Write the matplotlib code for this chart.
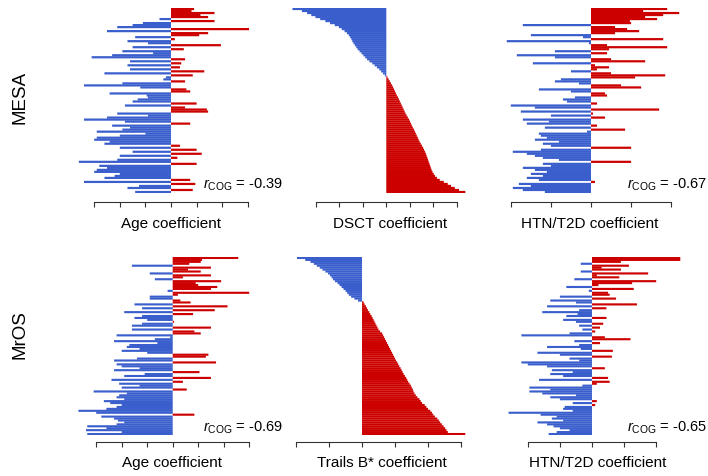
import numpy as np
import matplotlib.pyplot as plt

# coefficient per region, top to bottom (ordered by the middle panel)
age_mesa = [0.9, 0.8, 1.7, 1.15, 1.45,
            -0.45, 1.7, -1.1, -1.5, -2.1,
            3.05, -2.5, 1.45, 1.1, -1.4,
            0.15, -1.7, -0.9, 1.95, -1.5,
            0.5, -1.9, -0.7, -2.3, -3.1,
            0.55, -1.6, 0.4, -1.7, 0.35,
            -1.6, 1.3, -2.6, 0.85, -0.2,
            -0.3, 0.55, -1.9, -3.4, -1.2,
            0.6, 0.75, -2.4, -0.95, -0.9,
            -1.3, -1.5, 1.0, -1.8, 0.55,
            1.4, 1.45, -2.1, -0.9, -2.5,
            -3.4, -1.8, 0.75, -2.3, -1.6,
            -1.9, -2.9, -1.0, -2.0, -2.9,
            -3.0, -2.4, -2.6, 0.35, -2.0,
            1.0, -1.5, 1.2, -2.0, 0.25,
            -2.1, -3.6, 1.0, -2.8, -2.5,
            -2.9, -3.0, -2.0, -2.2, -2.6,
            0.75, -3.4, 0.95, -1.25,
            -1.7, 0.85, -1.4]

dsct_mesa = [-4.0, -3.6, -3.38, -3.2, -3.02, -2.82, -2.6, -2.4, -2.2, -2.02,
             -1.9, -1.78, -1.68, -1.6, -1.54, -1.49, -1.45, -1.4, -1.34, -1.28,
             -1.22, -1.14, -1.06, -0.98, -0.9, -0.82, -0.72, -0.6, -0.5, -0.4,
             -0.3, -0.22, -0.14, -0.06,
             0.05, 0.1, 0.15, 0.2, 0.25, 0.29, 0.33, 0.37, 0.41, 0.45,
             0.5, 0.54, 0.58, 0.62, 0.66, 0.7, 0.74, 0.78, 0.82, 0.87,
             0.92, 0.97, 1.01, 1.05, 1.09, 1.13, 1.18, 1.22, 1.26, 1.3,
             1.34, 1.38, 1.42, 1.47, 1.52, 1.57, 1.61, 1.65, 1.69, 1.72,
             1.75, 1.78, 1.81, 1.84, 1.87, 1.9, 1.93, 1.97, 2.02, 2.08,
             2.16, 2.28, 2.45, 2.62, 2.76, 2.92, 3.1, 3.37]

htn_mesa = [1.9, 1.3, 2.2, 1.8, 1.35,
            1.65, 0.97, 1.0, -1.7, 0.6,
            0.9, 1.2, 0.6, -1.5, -0.2,
            1.8, -2.1, -0.05, 0.4, 1.9,
            0.45, -0.9, 0.4, -1.85, -0.9,
            0.5, 1.35, -1.45, 0.1, 0.45,
            0.15, -0.5, 0.5, 1.85, 1.1,
            -0.75, -0.9, -0.3, 0.75, 1.25,
            -1.3, -0.5, 0.35, 0.4, -0.4,
            -0.7, -0.6, 0.15, -2.0, -1.4,
            1.7, -1.75, 0.05, -1.0, 0.35,
            -1.7, -1.05, -1.6, 0.15, -1.15,
            0.85, -0.1, -1.3, -1.25, -1.1,
            -1.4, -0.8, -1.2, -1.0, 1.0,
            -1.25, -1.95, -1.6, -1.4, -1.2,
            -0.8, 1.0, -1.2, -1.0, -1.7,
            -1.4, -1.1, -1.5,
            -1.2, -1.6, -1.3, 0.1, -1.8,
            -1.5, -1.95, -1.7, -1.15]

age_mros = [2.57, 1.15, 1.1, 0.65, -1.6,
            1.5, 0.6, 1.1, -0.9, 1.5,
            0.4, -0.7, 1.9, 0.9, 1.0,
            1.75, 1.5, -0.2, 3.0, 0.2,
            -0.9, -0.9, 0.3, 0.7, -1.5,
            2.15, -1.2, 1.65, -1.9, 0.8,
            -1.2, -1.5, -1.0, 0.05, -1.2,
            -1.6, 1.5, -1.6, 0.85, 1.1,
            -2.2, -0.1, -0.7, -2.3, -0.6,
            -1.7, -1.8, -1.3, -2.0, -1.0,
            1.4, 1.3, -1.4, -2.3, 1.7,
            -2.2, -2.0, -1.3, -2.3, 1.05,
            -1.1, -1.9, 1.5, -2.4, 0.4,
            -2.1, -1.3, -2.0, 0.55, -3.1,
            -1.8, -2.1, -2.2, -1.9, -2.7,
            -2.45, -2.0, -2.2, -2.6,
            -3.7, -3.0, 0.85, -2.8, -2.3,
            -2.15, -1.9, -2.2, -3.35,
            -2.6, -3.4, -2.0, -3.35]

trails_mros = [-1.97, -1.72, -1.56, -1.46, -1.37, -1.28, -1.2, -1.11, -1.03, -0.97,
               -0.92, -0.88, -0.82, -0.74, -0.68, -0.62, -0.56, -0.5, -0.45, -0.4,
               -0.33, -0.23, -0.12,
               0.05, 0.08, 0.12, 0.15, 0.18, 0.22, 0.25, 0.29, 0.32, 0.35,
               0.38, 0.41, 0.44, 0.47, 0.5, 0.55, 0.61, 0.64, 0.67, 0.7,
               0.73, 0.76, 0.79, 0.82, 0.85, 0.88, 0.91, 0.94, 0.97, 1.0,
               1.03, 1.07, 1.1, 1.13, 1.17, 1.2, 1.23, 1.26, 1.3, 1.34,
               1.37, 1.4, 1.44, 1.48, 1.51, 1.54, 1.56, 1.59, 1.63, 1.68,
               1.74, 1.78, 1.82, 1.9, 1.95, 2.0, 2.07, 2.12, 2.16, 2.21,
               2.28, 2.33, 2.37, 2.42, 2.47, 2.52, 2.56, 2.6, 3.13]

htn_mros = [2.75, 2.75, 0.9, -0.35, 1.15,
            0.3, 0.9, -0.35, 1.75, 0.15,
            0.85, -0.55, 2.0, 1.25, 0.2,
            -0.8, 1.3, -0.1, 0.5, 0.55,
            -1.0, 0.75, -1.3, -0.5, 1.4,
            -1.4, 0.45, -0.4, -1.55, -0.45,
            -0.8, 0.45, -0.9, -0.5, 0.35,
            -0.4, 0.25, -0.3, 0.1,
            -0.7, -2.2, 0.4, 1.2, -0.55,
            0.25, -0.4, -1.4, -0.35,
            0.65, -1.7, -1.0, 0.62,
            -0.7, -0.4, -2.2, -2.0,
            -1.4, 0.4, -1.25, -0.6, -1.3,
            -0.9, 0.5, -1.65, 0.55,
            0.15, -0.3, -1.95, -1.3, -1.95,
            -1.55, -0.5, -1.3, -1.0, 0.15,
            -0.6, 0.1, -0.85, -0.9,
            -0.6, -2.6,
            -1.6, -1.1, -1.25, -0.9,
            -1.7, -1.4, -1.2,
            -1.0, -0.7, -1.1, -1.35]

row_labels = ['MESA', 'MrOS']
panel_data = [[age_mesa, dsct_mesa, htn_mesa], [age_mros, trails_mros, htn_mros]]
xlabels = [['Age coefficient', 'DSCT coefficient', 'HTN/T2D coefficient'],
           ['Age coefficient', 'Trails B* coefficient', 'HTN/T2D coefficient']]
tick_values = [[[-3, -2, -1, 0, 1, 2, 3], [-3, -2, -1, 0, 1, 2, 3], [-2, -1, 0, 1, 2]],
               [[-3, -2, -1, 0, 1, 2, 3], [-2, -1, 0, 1, 2, 3], [-2, -1, 0, 1, 2]]]
r_cog = [['-0.39', '-0.67'], ['-0.69', '-0.65']]

BLUE = '#3A5FCD'
RED = '#CD0000'
W, H = 708, 476

# layout in pixels
rows = [dict(top=8, bottom=193, axis=202, label_y=224, text_y=185, name_y=97),
        dict(top=257, bottom=435, axis=442, label_y=463, text_y=428, name_y=335)]
cols = [(70, 275), (285, 480), (495, 700)]
zero_px = [[171.0, 386.3, 591.0], [172.7, 362.0, 592.0]]
unit_px = [[25.6, 23.45, 40.1], [25.5, 33.0, 32.1]]
label_x = [[171, 390, 590], [172, 382, 598]]
text_x = [203, 627]

plt.rcParams['font.family'] = ['Liberation Sans', 'DejaVu Sans']
plt.rcParams['mathtext.fontset'] = 'custom'
plt.rcParams['mathtext.rm'] = 'Liberation Sans'
plt.rcParams['mathtext.it'] = 'Liberation Sans:italic'


def fx(px):
    return px / W


def fy(py):
    return 1 - py / H


def draw_panel(fig, r, c):
    row = rows[r]
    left, right = cols[c]
    ax = fig.add_axes([fx(left), fy(row['bottom']), (right - left) / W,
                       (row['bottom'] - row['top']) / H])
    vals = np.array(panel_data[r][c])
    n = len(vals)
    colors = np.where(vals < 0, BLUE, RED)
    # slight overlap so neighbouring bars merge without seams
    ax.barh(np.arange(n), vals, height=1.1, color=colors, edgecolor='none',
            linewidth=0, antialiased=True, snap=False)
    ax.set_ylim(n - 0.5, -0.5)
    z, u = zero_px[r][c], unit_px[r][c]
    ax.set_xlim((left - z) / u, (right - z) / u)

    for s in ['left', 'right', 'top']:
        ax.spines[s].set_visible(False)
    ticks = tick_values[r][c]
    ax.spines['bottom'].set_position(('outward', (row['axis'] - row['bottom']) * 0.72))
    ax.spines['bottom'].set_bounds(ticks[0], ticks[-1])
    ax.spines['bottom'].set_linewidth(0.8)
    ax.spines['bottom'].set_color('#333333')
    ax.set_xticks(ticks)
    ax.tick_params(axis='x', direction='out', length=3.5, width=0.8,
                   color='#333333', labelbottom=False)
    ax.set_yticks([])
    ax.patch.set_visible(False)

    fig.text(fx(label_x[r][c]), fy(row['label_y']), xlabels[r][c],
             ha='center', va='center', fontsize=11)


def main():
    fig = plt.figure(figsize=(W / 100, H / 100), dpi=100)
    for r in range(2):
        for c in range(3):
            draw_panel(fig, r, c)
        fig.text(fx(20), fy(rows[r]['name_y']), row_labels[r], rotation=90,
                 ha='center', va='center', fontsize=13.5)
        for k in range(2):
            fig.text(fx(text_x[k]), fy(rows[r]['text_y']),
                     r'$r_{\mathrm{COG}}$ = ' + r_cog[r][k],
                     ha='left', va='center', fontsize=10.5)
    fig.savefig('out.png', dpi=100)


if __name__ == '__main__':
    main()
